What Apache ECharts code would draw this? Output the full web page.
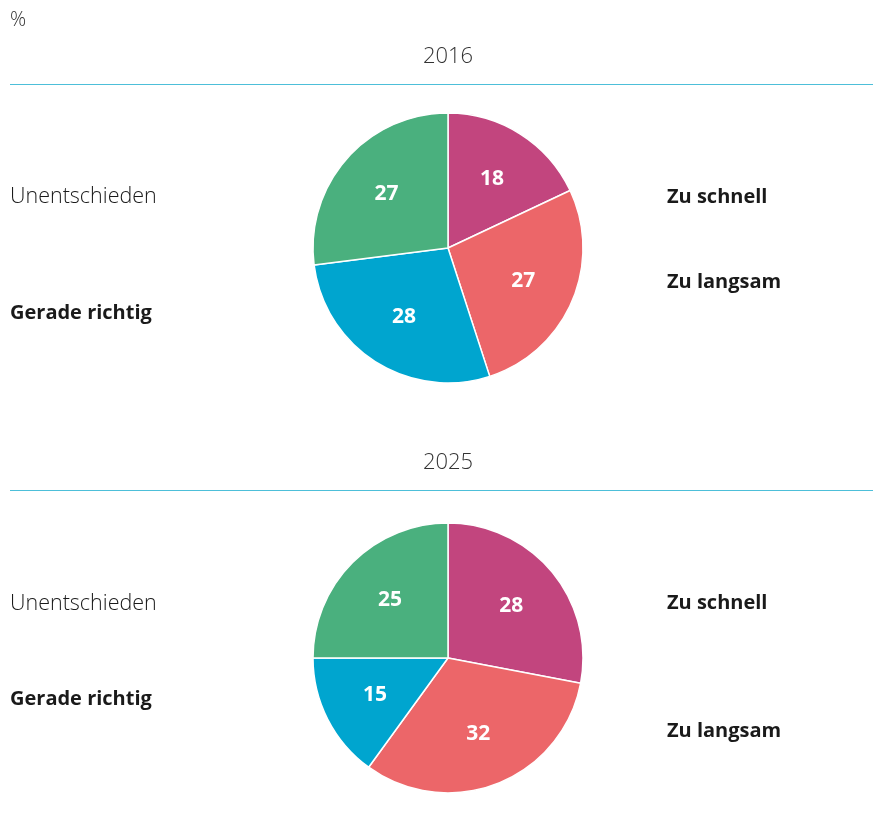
<!DOCTYPE html>
<html>
<head>
<meta charset="utf-8">
<script src="https://cdn.jsdelivr.net/npm/echarts@6/dist/echarts.min.js"></script>
<style>
  html, body { margin: 0; padding: 0; background: #fff; }
  #chart { width: 873px; height: 830px; }
</style>
</head>
<body>
<div id="chart"></div>
<script>
// Kategorien und Werte (in %)
var categories = ["Zu schnell", "Zu langsam", "Gerade richtig", "Unentschieden"];
var years = ["2016", "2025"];
var values2016 = [18, 27, 28, 27];
var values2025 = [28, 32, 15, 25];
var colors = ["#C2457E", "#EC6669", "#00A5CF", "#4AB07E"];

var FONT = "'Open Sans', 'Noto Sans', sans-serif";

function pieData(vals) {
  return categories.map(function (c, i) {
    return { name: c, value: vals[i], itemStyle: { color: colors[i] } };
  });
}

// echte Torte, ohne Label
function pieSeries(vals, cy) {
  return {
    type: "pie",
    center: [448, cy],
    radius: [0, 135],
    startAngle: 90,
    clockwise: true,
    silent: true,
    label: { show: false },
    labelLine: { show: false },
    itemStyle: { borderColor: "#fff", borderWidth: 1.5 },
    data: pieData(vals)
  };
}

// unsichtbare, groessere Torte nur fuer die Zahlen (weiter aussen platziert)
function labelSeries(vals, cy) {
  return {
    type: "pie",
    center: [448, cy],
    radius: [0, 158],
    startAngle: 90,
    clockwise: true,
    silent: true,
    itemStyle: { color: "rgba(0,0,0,0)", borderWidth: 0 },
    label: {
      show: true,
      position: "inside",
      formatter: "{c}",
      color: "#fff",
      fontSize: 21,
      fontWeight: "bold",
      fontFamily: FONT
    },
    labelLine: { show: false },
    data: categories.map(function (c, i) { return { name: c, value: vals[i] }; })
  };
}

function sideText(txt, x, y, bold) {
  return {
    type: "text",
    x: x,
    y: y + 2,
    style: {
      text: txt,
      fill: "#1a1a1a",
      textVerticalAlign: "middle",
      font: bold ? "bold 20px " + FONT : "300 21.5px " + FONT
    }
  };
}

function yearText(year, y) {
  return {
    type: "text",
    x: 448,
    y: y,
    style: {
      text: year, fill: "#333", textAlign: "center", textVerticalAlign: "middle",
      font: "300 22px " + FONT
    }
  };
}

function rule(lineY) {
  return {
    type: "rect",
    shape: { x: 10, y: lineY, width: 863, height: 1 },
    style: { fill: "#4DBFD9" },
    z: 100
  };
}

var chart = echarts.init(document.getElementById("chart"));
chart.setOption({
  backgroundColor: "#fff",
  animation: false,
  graphic: [
    rule(84),
    rule(490),
    { type: "text", x: 10, y: 20, style: { text: "%", fill: "#333", textVerticalAlign: "middle", font: "300 20px " + FONT } },
    yearText(years[0], 57),
    yearText(years[1], 463),
    sideText(categories[3], 10, 195, false),
    sideText(categories[2], 10, 311, true),
    sideText(categories[0], 667, 195, true),
    sideText(categories[1], 667, 280, true),
    sideText(categories[3], 10, 602, false),
    sideText(categories[2], 10, 697, true),
    sideText(categories[0], 667, 601, true),
    sideText(categories[1], 667, 729, true)
  ],
  series: [
    pieSeries(values2016, 248),
    labelSeries(values2016, 248),
    pieSeries(values2025, 658),
    labelSeries(values2025, 658)
  ]
});
</script>
</body>
</html>
